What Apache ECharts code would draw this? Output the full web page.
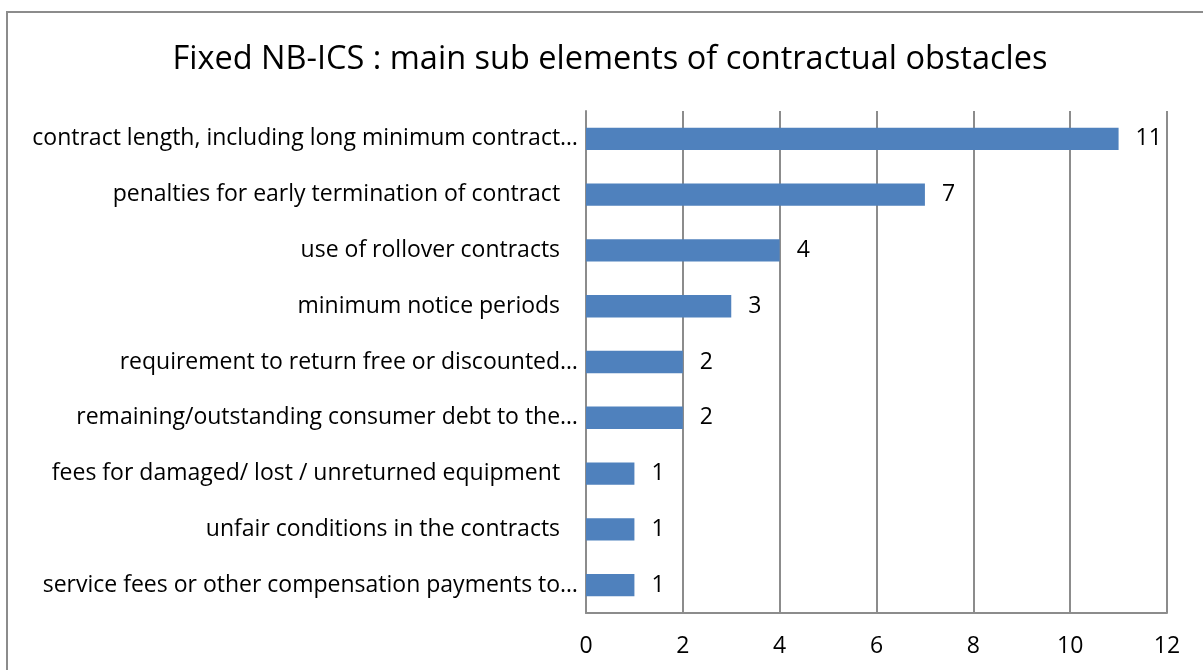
<!DOCTYPE html>
<html>
<head>
<meta charset="utf-8">
<script src="https://cdn.jsdelivr.net/npm/echarts@6/dist/echarts.min.js"></script>
<style>
html,body{margin:0;padding:0;background:#fff;}
#chart{width:1203px;height:670px;}
</style>
</head>
<body>
<div id="chart"></div>
<script>
const titleText = "Fixed NB-ICS : main sub elements of contractual obstacles";
const categories = [
  "contract length, including long minimum contract…",
  "penalties for early termination of contract ",
  "use of rollover contracts ",
  "minimum notice periods ",
  "requirement to return free or discounted…",
  "remaining/outstanding consumer debt to the…",
  "fees for damaged/ lost / unreturned equipment ",
  "unfair conditions in the contracts ",
  "service fees or other compensation payments to…"
];
const values = [11, 7, 4, 3, 2, 2, 1, 1, 1];
const xTicks = [0, 2, 4, 6, 8, 10, 12];

const FONT = "Open Sans";
const FS = 23;
const chart = echarts.init(document.getElementById('chart'));
chart.setOption({
  animation: false,
  backgroundColor: '#fff',
  title: {
    text: titleText,
    left: 605,
    top: 38,
    textAlign: 'center',
    textStyle: {fontFamily: FONT, fontSize: 32.5, fontWeight: 'normal', color: '#000'}
  },
  graphic: [{
    type: 'rect',
    shape: {x: 7, y: 12, width: 1250, height: 720},
    style: {fill: 'none', stroke: '#8c8c8c', lineWidth: 2},
    silent: true
  }],
  grid: {left: 586, right: 36, top: 111, bottom: 57, containLabel: false},
  xAxis: {
    type: 'value',
    min: xTicks[0],
    max: xTicks[xTicks.length - 1],
    interval: 2,
    axisLine: {show: true, lineStyle: {color: '#8c8c8c', width: 2}},
    axisTick: {show: false},
    splitLine: {show: true, lineStyle: {color: '#8c8c8c', width: 2}},
    axisLabel: {fontFamily: FONT, fontSize: FS, color: '#000', margin: 22}
  },
  yAxis: {
    type: 'category',
    data: categories,
    inverse: true,
    axisLine: {show: true, lineStyle: {color: '#8c8c8c', width: 2}},
    axisTick: {show: false},
    splitLine: {show: false},
    axisLabel: {
      fontFamily: FONT, fontSize: FS, color: '#000', margin: 8,
      formatter: function (v) { return v.replace(/ $/, '\u00a0\u00a0\u00a0'); }
    }
  },
  series: [{
    type: 'bar',
    data: values,
    barCategoryGap: '60%',
    itemStyle: {color: '#4F81BD'},
    label: {
      show: true,
      position: 'right',
      distance: 17,
      fontFamily: FONT,
      fontSize: FS,
      color: '#000'
    }
  }]
});
</script>
</body>
</html>
